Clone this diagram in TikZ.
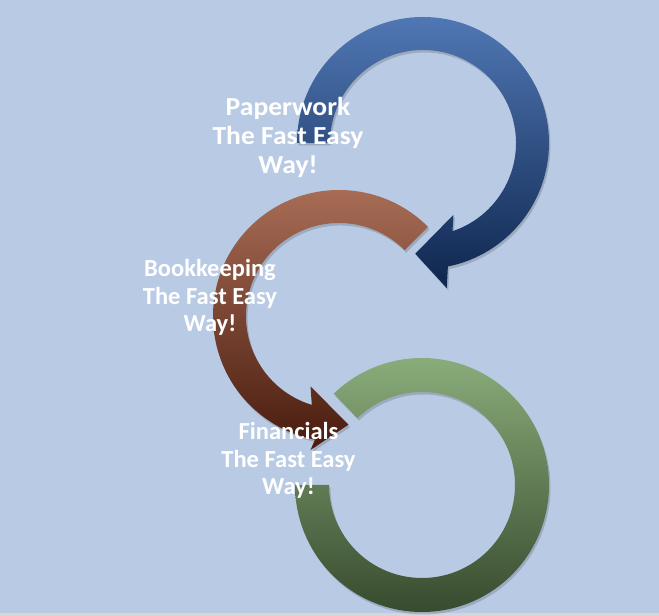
\documentclass[tikz,border=0pt]{standalone}
\usepackage{fontspec}
\setmainfont{Carlito}
\usetikzlibrary{shadows}
\definecolor{bg}{HTML}{B9CBE4}
\definecolor{bgbar}{HTML}{D4D6DA}
\definecolor{bluetop}{HTML}{5077B4}
\definecolor{bluebot}{HTML}{0E264E}
\definecolor{browntop}{HTML}{AC7059}
\definecolor{brownbot}{HTML}{481B0D}
\definecolor{greentop}{HTML}{8EB17E}
\definecolor{greenbot}{HTML}{33462A}
\tikzset{
  arcshadow/.style={drop shadow={shadow xshift=1.5pt, shadow yshift=-2.5pt, opacity=0.16, fill=black}},
  lbl/.style={text=white, font=\bfseries\fontsize{24.5}{27.5}\selectfont, align=center, inner sep=0pt},
  biglbl/.style={lbl, font=\bfseries\fontsize{26}{29}\selectfont\addfontfeatures{FakeStretch=1.06}}
}
\begin{document}
\begin{tikzpicture}[x=1pt,y=1pt]
\useasboundingbox (0,0) rectangle (659,616);
\fill[bg] (0,0) rectangle (659,616);
\fill[bgbar] (0,0) rectangle (659,3);
% blue circular arrow
\begin{scope}[shift={(423,473)}]
\path[arcshadow, top color=bluetop, bottom color=bluebot]
  (180:126) arc[start angle=180, end angle=-78.6, radius=126]
  -- (-80.7:147) -- (-94:111) -- (-67:78) -- (-71.5:93)
  arc[start angle=-71.5, end angle=180, radius=93] -- cycle;
\end{scope}
% brown circular arrow
\begin{scope}[shift={(339,300)}]
\path[arcshadow, top color=browntop, bottom color=brownbot]
  (45:126) arc[start angle=45, end angle=259, radius=126]
  -- (258:137) -- (275:109) -- (248:76) -- (253:93)
  arc[start angle=253, end angle=45, radius=93] -- cycle;
\end{scope}
% green ring
\begin{scope}[shift={(422,131)}]
\path[arcshadow, top color=greentop, bottom color=greenbot]
  (134:127) arc[start angle=134, end angle=-180, radius=127]
  -- (180:93) arc[start angle=-180, end angle=134, radius=93] -- cycle;
\end{scope}
% labels
\node[biglbl] (paper) at (288,479) {Paperwork\\The Fast Easy\\Way!};
\node[lbl] (book) at (210,318.5) {Bookkeeping\\The Fast Easy\\Way!};
\node[lbl] (fin) at (288.5,155.5) {Financials\\The Fast Easy\\Way!};
\end{tikzpicture}
\end{document}
